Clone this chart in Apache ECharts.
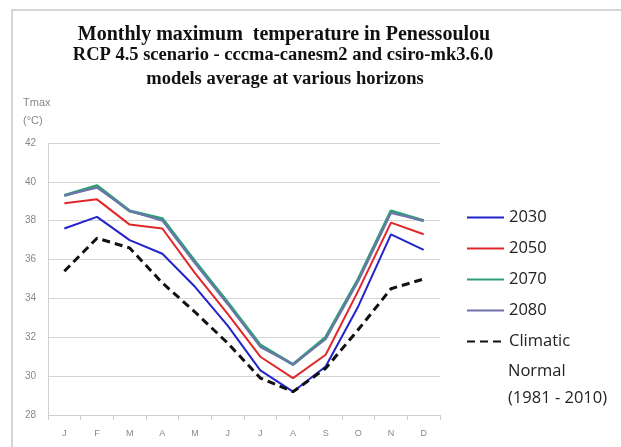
<!DOCTYPE html>
<html>
<head>
<meta charset="utf-8">
<script src="https://cdn.jsdelivr.net/npm/echarts@6/dist/echarts.min.js"></script>
<style>
  html, body { margin: 0; padding: 0; background: #fff; }
  #main { width: 621px; height: 447px; }
</style>
</head>
<body>
<div id="main"></div>
<script>
var months = ['J', 'F', 'M', 'A', 'M', 'J', 'J', 'A', 'S', 'O', 'N', 'D'];
var h2030 = [37.6, 38.2, 37.0, 36.3, 34.6, 32.6, 30.3, 29.2, 30.5, 33.6, 37.3, 36.5];
var h2050 = [38.9, 39.1, 37.8, 37.6, 35.3, 33.2, 31.0, 29.9, 31.1, 34.4, 37.9, 37.3];
var h2070 = [39.3, 39.8, 38.5, 38.1, 35.9, 33.8, 31.6, 30.6, 32.0, 35.0, 38.5, 38.0];
var h2080 = [39.3, 39.7, 38.5, 38.0, 35.8, 33.7, 31.5, 30.6, 31.9, 34.9, 38.4, 38.0];
var normal = [35.4, 37.1, 36.6, 34.8, 33.3, 31.7, 29.9, 29.2, 30.4, 32.4, 34.5, 35.0];
var yTicks = [28, 30, 32, 34, 36, 38, 40, 42];

var myChart = echarts.init(document.getElementById('main'));

function lineSeries(name, data, color, width, dash) {
    return {
        name: name,
        type: 'line',
        data: data,
        symbol: 'none',
        smooth: false,
        lineStyle: { color: color, width: width, type: dash || 'solid' },
        itemStyle: { color: color }
    };
}

var option = {
    backgroundColor: '#fff',
    animation: false,
    title: [{
        text: 'Monthly maximum  temperature in Penessoulou',
        left: 279, top: 20, textAlign: 'center',
        textStyle: { fontFamily: 'Liberation Serif', fontSize: 20, fontWeight: 'bold', color: '#111' }
    }, {
        text: 'RCP 4.5 scenario - cccma-canesm2 and csiro-mk3.6.0',
        left: 278, top: 41, textAlign: 'center',
        textStyle: { fontFamily: 'Liberation Serif', fontSize: 18.5, fontWeight: 'bold', color: '#111' }
    }, {
        text: 'models average at various horizons',
        left: 280, top: 65, textAlign: 'center',
        textStyle: { fontFamily: 'Liberation Serif', fontSize: 18.5, fontWeight: 'bold', color: '#111' }
    }],
    graphic: [
        { type: 'polyline', shape: { points: [[12, 460], [12, 10], [640, 10]] },
          style: { stroke: '#c8c8c8', lineWidth: 1.5, fill: null } },
        { type: 'text', left: 23, top: 97,
          style: { text: 'Tmax', fontFamily: 'Liberation Sans', fontSize: 11, fill: '#888' } },
        { type: 'text', left: 23, top: 115,
          style: { text: '(°C)', fontFamily: 'Liberation Sans', fontSize: 11, fill: '#888' } },
        { type: 'text', left: 508, top: 363,
          style: { text: 'Normal', fontFamily: 'Open Sans', fontSize: 16.5, fill: '#222' } },
        { type: 'text', left: 508, top: 390,
          style: { text: '(1981 - 2010)', fontFamily: 'Open Sans', fontSize: 16.5, fill: '#222' } }
    ],
    legend: {
        orient: 'vertical',
        left: 461, top: 204,
        itemWidth: 37, itemHeight: 16, itemGap: 14,
        itemStyle: { opacity: 0 },
        textStyle: { fontFamily: 'Open Sans', fontSize: 16.5, color: '#222' },
        formatter: function (name) { return name.indexOf('Climatic') === 0 ? 'Climatic' : name; },
        data: ['2030', '2050', '2070', '2080', 'Climatic Normal (1981 - 2010)']
    },
    grid: { left: 48, right: 181, top: 143, bottom: 32, containLabel: false },
    xAxis: {
        type: 'category',
        data: months,
        boundaryGap: true,
        axisLine: { lineStyle: { color: '#d0d0d0' } },
        axisTick: { show: true, lineStyle: { color: '#d0d0d0' } },
        axisLabel: { color: '#888', fontSize: 9, fontFamily: 'Liberation Sans', margin: 14 }
    },
    yAxis: {
        type: 'value',
        min: yTicks[0], max: yTicks[yTicks.length - 1], interval: 2,
        axisLine: { show: true, lineStyle: { color: '#d0d0d0' } },
        axisTick: { show: false },
        splitLine: { lineStyle: { color: '#d4d4d4' } },
        axisLabel: { color: '#888', fontSize: 10, fontFamily: 'Liberation Sans', margin: 12 }
    },
    series: [
        lineSeries('2030', h2030, '#2323cc', 2),
        lineSeries('2050', h2050, '#e0282a', 2),
        lineSeries('2070', h2070, '#2e9e78', 3),
        lineSeries('2080', h2080, '#7272ae', 2),
        lineSeries('Climatic Normal (1981 - 2010)', normal, '#111', 3, [8, 5])
    ]
};

myChart.setOption(option);
</script>
</body>
</html>
